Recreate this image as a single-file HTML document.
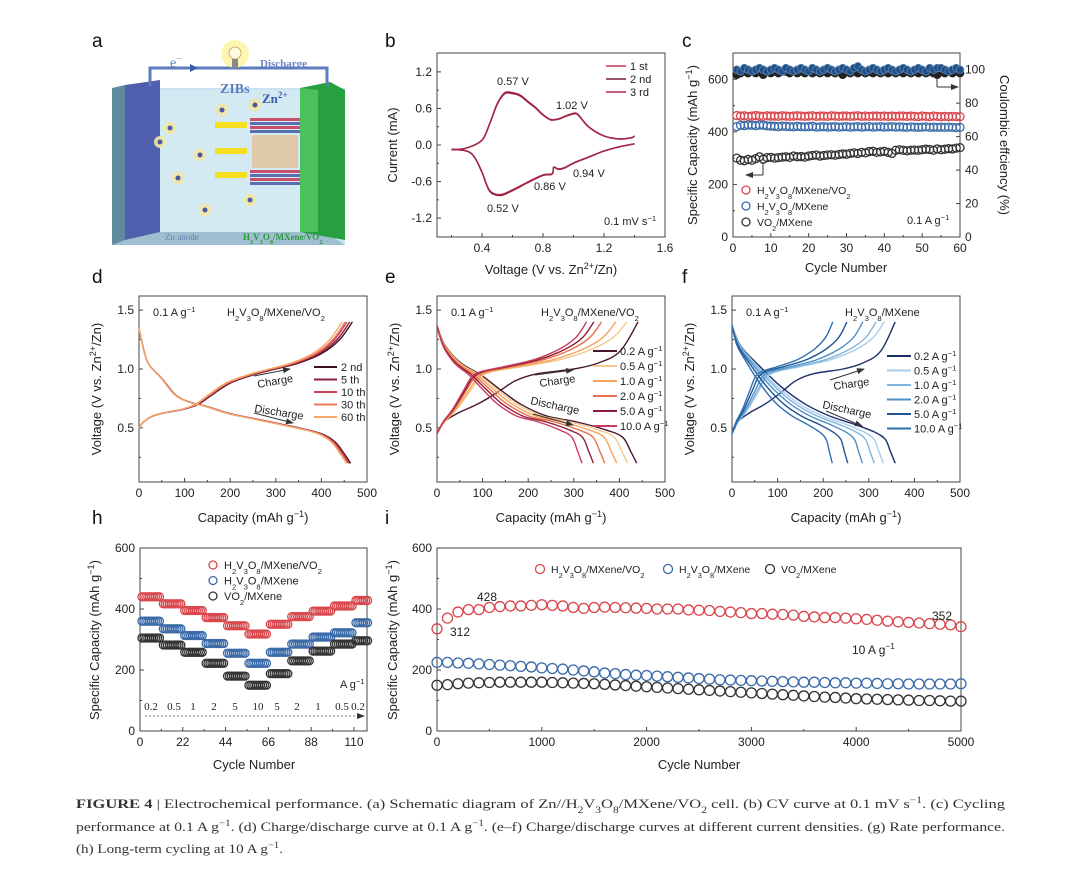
<!DOCTYPE html>
<html><head><meta charset="utf-8">
<style>
html,body{margin:0;padding:0;background:#fff;}
svg{display:block;font-family:"Liberation Sans",Arial,sans-serif;}
</style></head>
<body>
<svg id="fig" width="1080" height="887" viewBox="0 0 1080 887" xmlns="http://www.w3.org/2000/svg"></svg>
<script>
// ---------------- DATA ----------------
// Panel b: CV
const CV_V_UP = [0.2,0.3,0.4,0.45,0.5,0.55,0.6,0.65,0.7,0.75,0.8,0.85,0.9,0.95,1.0,1.03,1.1,1.2,1.3,1.38,1.4];
const CV_I_UP = [-0.08,-0.05,0.08,0.35,0.68,0.86,0.86,0.82,0.72,0.62,0.5,0.42,0.43,0.48,0.52,0.5,0.3,0.15,0.1,0.12,0.15];
const CV_V_DN = [1.4,1.3,1.2,1.1,1.0,0.94,0.9,0.87,0.86,0.8,0.7,0.6,0.52,0.45,0.4,0.35,0.3,0.2];
const CV_I_DN = [0.02,-0.03,-0.1,-0.2,-0.3,-0.38,-0.4,-0.37,-0.48,-0.5,-0.62,-0.75,-0.83,-0.76,-0.45,-0.2,-0.1,-0.07];
const CV_LABELS = ['1 st','2 nd','3 rd'];
const CV_SCALE = [1.0,0.99,0.98];
// Panel c: cycling
const C_RED = [462,460,461,459,460,462,460,459,461,460,460,459,461,460,459,460,461,460,459,460,461,459,460,460,459,461,460,459,460,460,459,460,461,459,460,459,460,460,459,460,459,460,459,460,460,459,460,459,458,460,459,458,460,459,458,459,458,459,458,458];
const C_BLUE = [420,425,424,426,425,424,426,425,423,422,421,420,422,421,420,419,421,420,419,420,421,418,419,420,418,419,420,418,419,420,418,419,420,418,419,420,418,419,420,418,419,420,418,419,418,417,419,418,417,418,419,417,418,417,418,417,418,417,416,417];
const C_BLACK = [300,292,290,295,292,298,305,296,302,303,300,302,304,305,303,308,305,306,304,308,310,312,308,310,312,313,311,314,316,315,318,320,318,322,320,325,326,322,324,326,322,318,330,332,330,328,330,331,330,332,334,333,330,335,332,334,336,335,338,340];
const C_CE_BLACK = [97,98,99,98,99,98,99,97,99,98,99,98,99,99,98,99,98,99,98,99,98,99,98,99,98,99,98,99,97,99,98,99,98,99,98,99,98,99,98,99,98,99,98,99,98,99,98,99,98,99,98,99,98,97,99,98,99,98,99,98];
const C_CE_BLUE = [100,99,101,100,99,100,101,100,99,100,101,100,99,101,100,99,100,101,100,99,101,100,99,100,101,100,99,100,101,100,99,101,102,100,99,100,101,100,99,100,101,100,99,100,101,100,99,100,101,100,99,101,100,101,101,100,99,100,101,100];
// Panel d
const D_LABELS = ['2 nd','5 th','10 th','30 th','60 th'];
const D_CHG_END = [468,462,456,452,445];
const D_DIS_END = [464,462,460,457,455];
const D_CHG_CAP = [0,10,30,60,100,130,160,200,250,300,350,400,440,468];
const D_CHG_V   = [0.5,0.55,0.6,0.63,0.66,0.7,0.78,0.88,0.95,1.0,1.05,1.13,1.25,1.4];
const D_DIS_CAP = [0,5,20,50,80,110,150,200,250,300,350,400,430,450,464];
const D_DIS_V   = [1.35,1.25,1.05,0.92,0.78,0.72,0.68,0.62,0.58,0.54,0.5,0.45,0.38,0.28,0.2];
// Panel e / f shapes (fraction of final capacity)
const SLOW_CHG_FRAC = [0,0.035,0.11,0.2,0.3,0.39,0.5,0.68,0.8,0.91,1];
const SLOW_CHG_V    = [0.45,0.55,0.63,0.7,0.8,0.9,0.96,1.0,1.05,1.15,1.4];
const FAST_CHG_FRAC = [0,0.04,0.1,0.17,0.23,0.3,0.45,0.65,0.82,0.93,1];
const FAST_CHG_V    = [0.45,0.55,0.65,0.8,0.93,0.98,1.02,1.08,1.17,1.27,1.4];
const E_DIS_FRAC = [0,0.04,0.12,0.22,0.32,0.42,0.55,0.7,0.85,0.93,0.97,1];
const E_DIS_V    = [1.37,1.2,1.05,0.95,0.82,0.7,0.6,0.55,0.48,0.42,0.3,0.2];
const F_DIS_FRAC = [0,0.05,0.15,0.3,0.45,0.6,0.75,0.88,0.94,0.97,1];
const F_DIS_V    = [1.37,1.2,1.05,0.85,0.7,0.6,0.53,0.46,0.4,0.3,0.2];
const RATE_LABELS = ['0.2 A g','0.5 A g','1.0 A g','2.0 A g','5.0 A g','10.0 A g'];
const E_CHG_END = [441,416,392,361,344,328];
const E_DIS_END = [438,418,394,368,343,318];
const F_CHG_END = [358,334,316,287,252,221];
const F_DIS_END = [358,332,312,286,254,220];
// Panel h: rate
const H_RATES = ['0.2','0.5','1','2','5','10','5','2','1','0.5','0.2'];
const H_SEG_START = [0,11,22,33,44,55,66,77,88,99,110];
const H_RED = [440,417,395,372,345,318,350,375,393,410,428];
const H_BLUE = [360,335,313,287,255,222,258,285,308,322,355];
const H_BLACK = [305,282,258,222,180,150,188,230,262,285,296];
// Panel i: long cycling (every 100 cycles)
const I_RED = [335,370,390,398,398,405,408,410,410,412,414,412,410,405,402,405,406,405,404,403,402,400,400,400,397,396,395,392,390,388,385,385,383,382,380,376,374,372,372,370,368,366,363,360,358,356,354,352,350,348,342];
const I_BLUE = [225,225,223,222,220,218,216,214,212,210,207,205,203,200,197,194,190,188,185,183,182,180,178,176,174,172,170,168,167,166,165,164,163,162,161,160,160,159,158,158,157,157,156,155,155,154,154,154,154,154,155];
const I_BLACK = [150,152,155,157,158,159,160,160,160,160,160,159,158,157,156,155,153,151,149,147,145,143,141,139,137,135,133,131,129,127,125,123,121,119,117,115,113,111,110,108,106,105,104,103,102,101,100,100,99,98,98];

// ---------------- HELPERS ----------------
const NS = 'http://www.w3.org/2000/svg';
const svg = document.getElementById('fig');
function el(tag, parent, name, attrs){
  const e = document.createElementNS(NS, tag);
  for (const k in attrs) e.setAttribute(k, attrs[k]);
  
  
  parent.appendChild(e);
  return e;
}
function grp(name){ return el('g', svg, name, {}); }
function txt(parent, name, x, y, html, size, anchor, extra){
  const a = Object.assign({x:x, y:y, 'font-size':size, 'text-anchor':anchor||'start', fill:'#222'}, extra||{});
  const t = el('text', parent, name, a);
  t.innerHTML = html;
  return t;
}
const sub = s => '<tspan baseline-shift="sub" font-size="0.7em">'+s+'</tspan>';
const sup = s => '<tspan baseline-shift="super" font-size="0.7em">'+s+'</tspan>';
const HVO = 'H'+sub('2')+'V'+sub('3')+'O'+sub('8');
const MAH = 'Capacity (mAh g'+sup('−1')+')';
const VZN = 'Voltage (V vs. Zn'+sup('2+')+'/Zn)';

function axes(g, x0, x1, y0, y1, xd, yd){
  const sx = v => x0 + (v - xd[0])/(xd[1]-xd[0])*(x1-x0);
  const sy = v => y1 - (v - yd[0])/(yd[1]-yd[0])*(y1-y0);
  el('rect', g, 'plot-frame', {x:x0, y:y0, width:x1-x0, height:y1-y0, fill:'none', stroke:'#444', 'stroke-width':1});
  return {sx, sy, x0, x1, y0, y1};
}
function xTicks(g, ax, vals, labels, minor){
  vals.forEach((v,i)=>{
    const x = ax.sx(v);
    el('line', g, 'x-tick', {x1:x, y1:ax.y1, x2:x, y2:ax.y1-4, stroke:'#444'});
    txt(g, 'x-tick-label', x, ax.y1+15, labels[i], 12, 'middle');
  });
  (minor||[]).forEach(v=>{
    const x = ax.sx(v);
    el('line', g, 'x-minor-tick', {x1:x, y1:ax.y1, x2:x, y2:ax.y1-2, stroke:'#444'});
  });
}
function yTicks(g, ax, vals, labels, minor){
  vals.forEach((v,i)=>{
    const y = ax.sy(v);
    el('line', g, 'y-tick', {x1:ax.x0, y1:y, x2:ax.x0+4, y2:y, stroke:'#444'});
    txt(g, 'y-tick-label', ax.x0-5, y+4, labels[i], 12, 'end');
  });
  (minor||[]).forEach(v=>{
    const y = ax.sy(v);
    el('line', g, 'y-minor-tick', {x1:ax.x0, y1:y, x2:ax.x0+2, y2:y, stroke:'#444'});
  });
}
function smooth(pts){
  let d = 'M'+pts[0][0].toFixed(1)+','+pts[0][1].toFixed(1);
  for (let i=0;i<pts.length-1;i++){
    const p0=pts[Math.max(0,i-1)], p1=pts[i], p2=pts[i+1], p3=pts[Math.min(pts.length-1,i+2)];
    const c1=[p1[0]+(p2[0]-p0[0])/6, p1[1]+(p2[1]-p0[1])/6];
    const c2=[p2[0]-(p3[0]-p1[0])/6, p2[1]-(p3[1]-p1[1])/6];
    d += ' C'+c1[0].toFixed(1)+','+c1[1].toFixed(1)+' '+c2[0].toFixed(1)+','+c2[1].toFixed(1)+' '+p2[0].toFixed(1)+','+p2[1].toFixed(1);
  }
  return d;
}
function curve(g, name, ax, xs, ys, color, w){
  const pts = xs.map((x,i)=>[ax.sx(x), ax.sy(ys[i])]);
  return el('path', g, name, {d:smooth(pts), fill:'none', stroke:color, 'stroke-width':w||1.5});
}
function ring(g, name, x, y, r, color){
  return el('circle', g, name, {cx:x, cy:y, r:r, fill:'none', stroke:color, 'stroke-width':1.3});
}
function arrow(g, name, x1, y1, x2, y2){
  el('line', g, name, {x1:x1, y1:y1, x2:x2, y2:y2, stroke:'#333', 'stroke-width':1, 'marker-end':'url(#ah)'});
}
function rotTitle(g, name, x, y, html, size){
  return txt(g, name, x, y, html, size||13, 'middle', {transform:'rotate(-90 '+x+' '+y+')'});
}
const defs = el('defs', svg, 'defs', {});
const mk = el('marker', defs, 'arrowhead', {id:'ah', markerWidth:8, markerHeight:6, refX:7, refY:3, orient:'auto', markerUnits:'userSpaceOnUse'});
el('path', mk, 'arrowhead-shape', {d:'M0,0 L8,3 L0,6 z', fill:'#333'});

// ---------------- PANEL LABELS ----------------
const pl = grp('panel-labels');
[['a',92,47],['b',385,47],['c',682,47],['d',92,283],['e',385,283],['f',682,283],['h',92,524],['i',385,524]].forEach(p=>{
  txt(pl, 'panel-label-'+p[0], p[1], p[2], p[0], 19, 'start', {fill:'#111'});
});

// ---------------- PANEL A (schematic) ----------------
(function(){
  const g = grp('panel-a-schematic');
  el('polygon', g, 'cell-back', {points:'112,88 345,88 345,245 112,245', fill:'#c9e4f1'});
  el('polygon', g, 'cell-floor', {points:'112,245 345,245 325,232 135,232', fill:'#9fbfd0'});
  el('polygon', g, 'cell-left-wall', {points:'112,88 140,92 140,232 112,245', fill:'#b5d6e4'});
  el('polygon', g, 'zn-anode-side', {points:'112,88 125,85 125,240 112,245', fill:'#5f8aa0'});
  el('polygon', g, 'zn-anode', {points:'125,85 160,80 160,232 125,240', fill:'#4f5fae'});
  el('polygon', g, 'cathode-plate', {points:'300,88 330,82 345,90 345,240 300,232', fill:'#27a040'});
  el('polygon', g, 'cathode-face', {points:'300,88 318,90 318,232 300,232', fill:'#4cc05a'});
  el('polygon', g, 'separator', {points:'160,90 300,90 300,232 160,232', fill:'#d8ecf4', opacity:0.7});
  el('polyline', g, 'external-wire', {points:'150,86 150,68 327,68 327,86', fill:'none', stroke:'#5d7cc0', 'stroke-width':3});
  el('circle', g, 'bulb-glow', {cx:235, cy:54, r:14, fill:'#fff3a0', opacity:0.8});
  el('circle', g, 'bulb', {cx:235, cy:53, r:6, fill:'#fffbe0', stroke:'#c9b46a'});
  el('rect', g, 'bulb-base', {x:232, y:59, width:6, height:9, fill:'#8a8a8a'});
  el('path', g, 'electron-arrow', {d:'M198,68 l-8,-4 l0,8 z', fill:'#3c5aa8'});
  txt(g, 'electron-label', 170, 67, 'e'+sup('−'), 14, 'start', {fill:'#5d7cc0', 'font-family':'Liberation Serif, serif'});
  txt(g, 'discharge-label', 260, 67, 'Discharge', 11, 'start', {fill:'#6a86c6', 'font-family':'Liberation Serif, serif', 'font-weight':'bold'});
  txt(g, 'zibs-label', 220, 93, 'ZIBs', 14, 'start', {fill:'#5d7cc0', 'font-family':'Liberation Serif, serif', 'font-weight':'bold'});
  txt(g, 'zn-ion-label', 262, 103, 'Zn'+sup('2+'), 13, 'start', {fill:'#3c5aa8', 'font-family':'Liberation Serif, serif', 'font-weight':'bold'});
  // layers
  [[250,118],[250,170]].forEach((p,i)=>{
    for(let k=0;k<4;k++){
      el('rect', g, 'layer-stack', {x:p[0], y:p[1]+k*4, width:50, height:3, fill: k%2? '#5a6fb0':'#c8506c'});
    }
  });
  el('rect', g, 'mxene-vo2-region', {x:252, y:135, width:46, height:33, fill:'#e8b070', opacity:0.55});
  [[215,122],[215,148],[215,172]].forEach(p=>{
    el('rect', g, 'ion-path', {x:p[0], y:p[1], width:32, height:6, fill:'#f5e020'});
  });
  [[170,128],[178,178],[200,155],[222,110],[255,105],[205,210],[250,200],[160,142]].forEach(p=>{
    el('circle', g, 'zn-ion', {cx:p[0], cy:p[1], r:6, fill:'#f3e6a0', opacity:0.9});
    el('circle', g, 'zn-ion-core', {cx:p[0], cy:p[1], r:2.5, fill:'#4a5aa8'});
  });
  txt(g, 'zn-anode-label', 165, 240, 'Zn anode', 9, 'start', {fill:'#6b7fb5', 'font-family':'Liberation Serif, serif'});
  txt(g, 'cathode-label', 243, 240, HVO+'/MXene/VO'+sub('2'), 9, 'start', {fill:'#2a9a3a', 'font-family':'Liberation Serif, serif', 'font-weight':'bold'});
})();

// ---------------- PANEL B (CV) ----------------
(function(){
  const g = grp('panel-b-cv');
  const ax = axes(g, 437, 665, 53, 237, [0.105,1.6], [-1.51,1.51]);
  xTicks(g, ax, [0.4,0.8,1.2,1.6], ['0.4','0.8','1.2','1.6'], [0.2,0.6,1.0,1.4]);
  yTicks(g, ax, [-1.2,-0.6,0,0.6,1.2], ['-1.2','-0.6','0.0','0.6','1.2'], [-0.9,-0.3,0.3,0.9]);
  const cols = ['#c23a5a','#7a1c36','#a52848'];
  CV_SCALE.forEach((s,k)=>{
    const line = curve(g, 'cv-cycle-'+(k+1)+'-anodic', ax, CV_V_UP, CV_I_UP.map(v=>v*s), cols[k], 1.4);
    const line2 = curve(g, 'cv-cycle-'+(k+1)+'-cathodic', ax, CV_V_DN, CV_I_DN.map(v=>v*s), cols[k], 1.4);
    el('line', g, 'legend-line-'+CV_LABELS[k].replace(' ',''), {x1:606, y1:66+k*13, x2:626, y2:66+k*13, stroke:cols[k], 'stroke-width':1.6});
    txt(g, 'legend-label', 630, 70+k*13, CV_LABELS[k], 11);
  });
  txt(g, 'peak-label-057', 497, 85, '0.57 V', 11);
  txt(g, 'peak-label-102', 556, 109, '1.02 V', 11);
  txt(g, 'peak-label-094', 573, 177, '0.94 V', 11);
  txt(g, 'peak-label-086', 534, 190, '0.86 V', 11);
  txt(g, 'peak-label-052', 487, 212, '0.52 V', 11);
  txt(g, 'scan-rate-label', 604, 225, '0.1 mV s'+sup('−1'), 11);
  txt(g, 'x-axis-title', 551, 274, VZN, 13, 'middle');
  rotTitle(g, 'y-axis-title', 397, 145, 'Current (mA)');
})();

// ---------------- PANEL C (cycling) ----------------
(function(){
  const g = grp('panel-c-cycling');
  const ax = axes(g, 733, 960, 53, 237, [0,60], [0,700]);
  const yR = v => 237 - v/110*184;
  xTicks(g, ax, [0,10,20,30,40,50,60], ['0','10','20','30','40','50','60'], [5,15,25,35,45,55]);
  yTicks(g, ax, [0,200,400,600], ['0','200','400','600'], [100,300,500]);
  [0,20,40,60,80,100].forEach(v=>{
    el('line', g, 'y2-tick', {x1:960, y1:yR(v), x2:956, y2:yR(v), stroke:'#444'});
    txt(g, 'y2-tick-label', 965, yR(v)+4, String(v), 12, 'start');
  });
  C_CE_BLACK.forEach((v,i)=>{ el('circle', g, 'ce-vo2-mxene', {cx:ax.sx(i+1), cy:yR(v), r:3.8, fill:'#222', stroke:'#222'}); });
  C_CE_BLUE.forEach((v,i)=>{ el('circle', g, 'ce-hvo-mxene', {cx:ax.sx(i+1), cy:yR(v), r:3.8, fill:'#1f4f86', stroke:'#5d86b8', 'stroke-width':0.8}); });
  C_RED.forEach((v,i)=>ring(g, 'cap-hvo-mxene-vo2', ax.sx(i+1), ax.sy(v), 4, '#d9474d'));
  C_BLUE.forEach((v,i)=>ring(g, 'cap-hvo-mxene', ax.sx(i+1), ax.sy(v), 4, '#3a6aa8'));
  C_BLACK.forEach((v,i)=>ring(g, 'cap-vo2-mxene', ax.sx(i+1), ax.sy(v), 4, '#333'));
  el('polyline', g, 'left-axis-indicator', {points:'763,162 763,175', fill:'none', stroke:'#333'});
  arrow(g, 'left-axis-arrow', 763, 175, 746, 175);
  el('polyline', g, 'right-axis-indicator', {points:'937,78 937,87', fill:'none', stroke:'#333'});
  arrow(g, 'right-axis-arrow', 937, 87, 958, 87);
  const names = [HVO+'/MXene/VO'+sub('2'), HVO+'/MXene', 'VO'+sub('2')+'/MXene'];
  const cols = ['#d9474d','#3a6aa8','#333'];
  names.forEach((n,k)=>{
    ring(g, 'legend-marker', 746, 190+k*16, 4, cols[k]);
    txt(g, 'legend-label', 757, 194+k*16, n, 10.5);
  });
  txt(g, 'rate-label', 907, 224, '0.1 A g'+sup('−1'), 11);
  txt(g, 'x-axis-title', 846, 272, 'Cycle Number', 13, 'middle');
  rotTitle(g, 'y-axis-title', 697, 145, 'Specific Capacity (mAh g'+sup('−1')+')');
  rotTitle(g, 'y2-axis-title', 1000, 145, 'Coulombic effciency (%)').setAttribute('transform','rotate(90 1000 145)');
})();

// ---------------- PANELS D, E, F ----------------
function gcdAxes(g, x0, x1){
  const ax = axes(g, x0, x1, 296, 482, [0,500], [0.04,1.62]);
  xTicks(g, ax, [0,100,200,300,400,500], ['0','100','200','300','400','500'], [50,150,250,350,450]);
  yTicks(g, ax, [0.5,1.0,1.5], ['0.5','1.0','1.5'], [0.25,0.75,1.25]);
  txt(g, 'x-axis-title', (x0+x1)/2, 522, MAH, 13, 'middle');
  rotTitle(g, 'y-axis-title', x0-38, 389, VZN);
  return ax;
}
(function(){
  const g = grp('panel-d-gcd');
  const ax = gcdAxes(g, 139, 367);
  const cols = ['#3d1028','#8c1d40','#c8405a','#ee7a5a','#f4a96a'];
  D_LABELS.forEach((lab,k)=>{
    curve(g, 'charge-curve-'+lab.replace(' ',''), ax, D_CHG_CAP.map(c=>c*D_CHG_END[k]/D_CHG_END[0]), D_CHG_V, cols[k], 1.4);
    curve(g, 'discharge-curve-'+lab.replace(' ',''), ax, D_DIS_CAP.map(c=>c*D_DIS_END[k]/D_DIS_END[0]), D_DIS_V, cols[k], 1.4);
    el('line', g, 'legend-line', {x1:314, y1:367+k*12.5, x2:337, y2:367+k*12.5, stroke:cols[k], 'stroke-width':2});
    txt(g, 'legend-label', 341, 371+k*12.5, lab, 11);
  });
  txt(g, 'rate-label', 153, 316, '0.1 A g'+sup('−1'), 11);
  txt(g, 'material-label', 227, 316, HVO+'/MXene/VO'+sub('2'), 11);
  txt(g, 'charge-label', 258, 388, 'Charge', 11, 'start', {transform:'rotate(-10 258 388)'});
  arrow(g, 'charge-arrow', 254, 376, 290, 369);
  txt(g, 'discharge-label', 254, 412, 'Discharge', 11, 'start', {transform:'rotate(9 254 412)'});
  arrow(g, 'discharge-arrow', 254, 413, 293, 423);
})();
function rateGcd(gname, x0, cols, slowShape, chgEnd, disEnd, disF, disV, legX, legY, legDy, matLabel, matX, chg, dis){
  const g = grp(gname);
  const ax = gcdAxes(g, x0, x0+228);
  RATE_LABELS.forEach((lab,k)=>{
    const cf = (k===0 && slowShape) ? SLOW_CHG_FRAC : FAST_CHG_FRAC;
    const cv = (k===0 && slowShape) ? SLOW_CHG_V : FAST_CHG_V;
    curve(g, 'charge-curve-'+k, ax, cf.map(f=>f*chgEnd[k]), cv, cols[k], 1.4);
    curve(g, 'discharge-curve-'+k, ax, disF.map(f=>f*disEnd[k]), disV, cols[k], 1.4);
    el('line', g, 'legend-line', {x1:legX, y1:legY+k*legDy, x2:legX+24, y2:legY+k*legDy, stroke:cols[k], 'stroke-width':2});
    txt(g, 'legend-label', legX+27, legY+4+k*legDy, lab+sup('−1'), 11);
  });
  txt(g, 'rate-label', x0+14, 316, '0.1 A g'+sup('−1'), 11);
  txt(g, 'material-label', matX, 316, matLabel, 11);
  txt(g, 'charge-label', chg[0], chg[1], 'Charge', 11, 'start', {transform:'rotate(-8 '+chg[0]+' '+chg[1]+')'});
  arrow(g, 'charge-arrow', chg[2], chg[3], chg[4], chg[5]);
  txt(g, 'discharge-label', dis[0], dis[1], 'Discharge', 11, 'start', {transform:'rotate(12 '+dis[0]+' '+dis[1]+')'});
  arrow(g, 'discharge-arrow', dis[2], dis[3], dis[4], dis[5]);
}
rateGcd('panel-e-gcd-rates', 437, ['#4a1530','#f5c98a','#f4a35e','#e8704a','#8e1d3a','#c83c5e'], true, E_CHG_END, E_DIS_END, E_DIS_FRAC, E_DIS_V, 593, 351, 15, HVO+'/MXene/VO'+sub('2'), 541, [540,387,535,375,573,370], [530,404,533,414,573,425]);
rateGcd('panel-f-gcd-rates', 732, ['#1d2f6b','#a9cde8','#7fb5de','#4d90c8','#1f5592','#2e6fb0'], true, F_CHG_END, F_DIS_END, F_DIS_FRAC, F_DIS_V, 887, 356, 14.5, HVO+'/MXene', 845, [834,390,830,380,864,369], [822,408,826,411,862,426]);

// ---------------- PANEL H (rate) ----------------
(function(){
  const g = grp('panel-h-rate');
  const ax = axes(g, 140, 367, 548, 731, [0,116.7], [0,600]);
  xTicks(g, ax, [0,22,44,66,88,110], ['0','22','44','66','88','110'], [11,33,55,77,99]);
  yTicks(g, ax, [0,200,400,600], ['0','200','400','600'], [100,300,500]);
  const series = [[H_RED,'#d9474d','rate-hvo-mxene-vo2'],[H_BLUE,'#3a6aa8','rate-hvo-mxene'],[H_BLACK,'#333','rate-vo2-mxene']];
  series.forEach(s=>{
    H_SEG_START.forEach((st,k)=>{
      for(let c=st+1;c<=st+10;c++){
        if (c>117) break;
        ring(g, s[2], ax.sx(c), ax.sy(s[0][k]), 4, s[1]);
      }
    });
  });
  const names = [HVO+'/MXene/VO'+sub('2'), HVO+'/MXene', 'VO'+sub('2')+'/MXene'];
  const cols = ['#d9474d','#3a6aa8','#333'];
  names.forEach((n,k)=>{
    ring(g, 'legend-marker', 213, 565+k*15.5, 4, cols[k]);
    txt(g, 'legend-label', 224, 569+k*15.5, n, 11);
  });
  const lx = [151,174,193,214,235,258,277,297,318,342,358];
  H_RATES.forEach((r,k)=>{
    txt(g, 'rate-step-label', lx[k], 710, r, 11, 'middle', {'font-family':'Liberation Serif, serif'});
  });
  el('line', g, 'rate-arrow-line', {x1:145, y1:716, x2:364, y2:716, stroke:'#777', 'stroke-width':0.9, 'stroke-dasharray':'2,2', 'marker-end':'url(#ah)'});
  txt(g, 'unit-label', 340, 688, 'A g'+sup('−1'), 11);
  txt(g, 'x-axis-title', 254, 769, 'Cycle Number', 13, 'middle');
  rotTitle(g, 'y-axis-title', 99, 640, 'Specific Capacity (mAh g'+sup('−1')+')');
})();

// ---------------- PANEL I (long cycling) ----------------
(function(){
  const g = grp('panel-i-long-cycling');
  const ax = axes(g, 437, 961, 548, 731, [0,5000], [0,600]);
  xTicks(g, ax, [0,1000,2000,3000,4000,5000], ['0','1000','2000','3000','4000','5000'], [500,1500,2500,3500,4500]);
  yTicks(g, ax, [0,200,400,600], ['0','200','400','600'], [100,300,500]);
  const series = [[I_RED,'#d9474d','long-hvo-mxene-vo2'],[I_BLUE,'#3a6aa8','long-hvo-mxene'],[I_BLACK,'#333','long-vo2-mxene']];
  series.forEach(s=>{
    s[0].forEach((v,i)=>ring(g, s[2], ax.sx(i*100), ax.sy(v), 5, s[1]));
  });
  const names = [HVO+'/MXene/VO'+sub('2'), HVO+'/MXene', 'VO'+sub('2')+'/MXene'];
  const cols = ['#d9474d','#3a6aa8','#333'];
  const lxs = [540,668,770];
  names.forEach((n,k)=>{
    ring(g, 'legend-marker', lxs[k], 569, 4.5, cols[k]);
    txt(g, 'legend-label', lxs[k]+11, 573, n, 10.5);
  });
  txt(g, 'annot-428', 477, 601, '428', 12);
  txt(g, 'annot-312', 450, 636, '312', 12);
  txt(g, 'annot-352', 932, 620, '352', 12);
  txt(g, 'rate-label', 852, 654, '10 A g'+sup('−1'), 12);
  txt(g, 'x-axis-title', 699, 769, 'Cycle Number', 13, 'middle');
  rotTitle(g, 'y-axis-title', 397, 640, 'Specific Capacity (mAh g'+sup('−1')+')');
})();

// ---------------- CAPTION ----------------
(function(){
  const g = grp('figure-caption');
  const f = {'font-family':'Liberation Serif, serif', fill:'#333', 'lengthAdjust':'spacingAndGlyphs'};
  const l1 = txt(g, 'caption-line-1', 76, 808, '<tspan font-weight="bold">FIGURE 4</tspan>  |  Electrochemical performance. (a) Schematic diagram of Zn//H'+sub('2')+'V'+sub('3')+'O'+sub('8')+'/MXene/VO'+sub('2')+' cell. (b) CV curve at 0.1 mV s'+sup('−1')+'. (c) Cycling', 13, 'start', Object.assign({textLength:929}, f));
  const l2 = txt(g, 'caption-line-2', 76, 831, 'performance at 0.1 A g'+sup('−1')+'. (d) Charge/discharge curve at 0.1 A g'+sup('−1')+'. (e–f) Charge/discharge curves at different current densities. (g) Rate performance.', 13, 'start', Object.assign({textLength:929}, f));
  const l3 = txt(g, 'caption-line-3', 76, 853, '(h) Long-term cycling at 10 A g'+sup('−1')+'.', 13, 'start', Object.assign({textLength:207}, f));
})();
</script>
</body></html>
